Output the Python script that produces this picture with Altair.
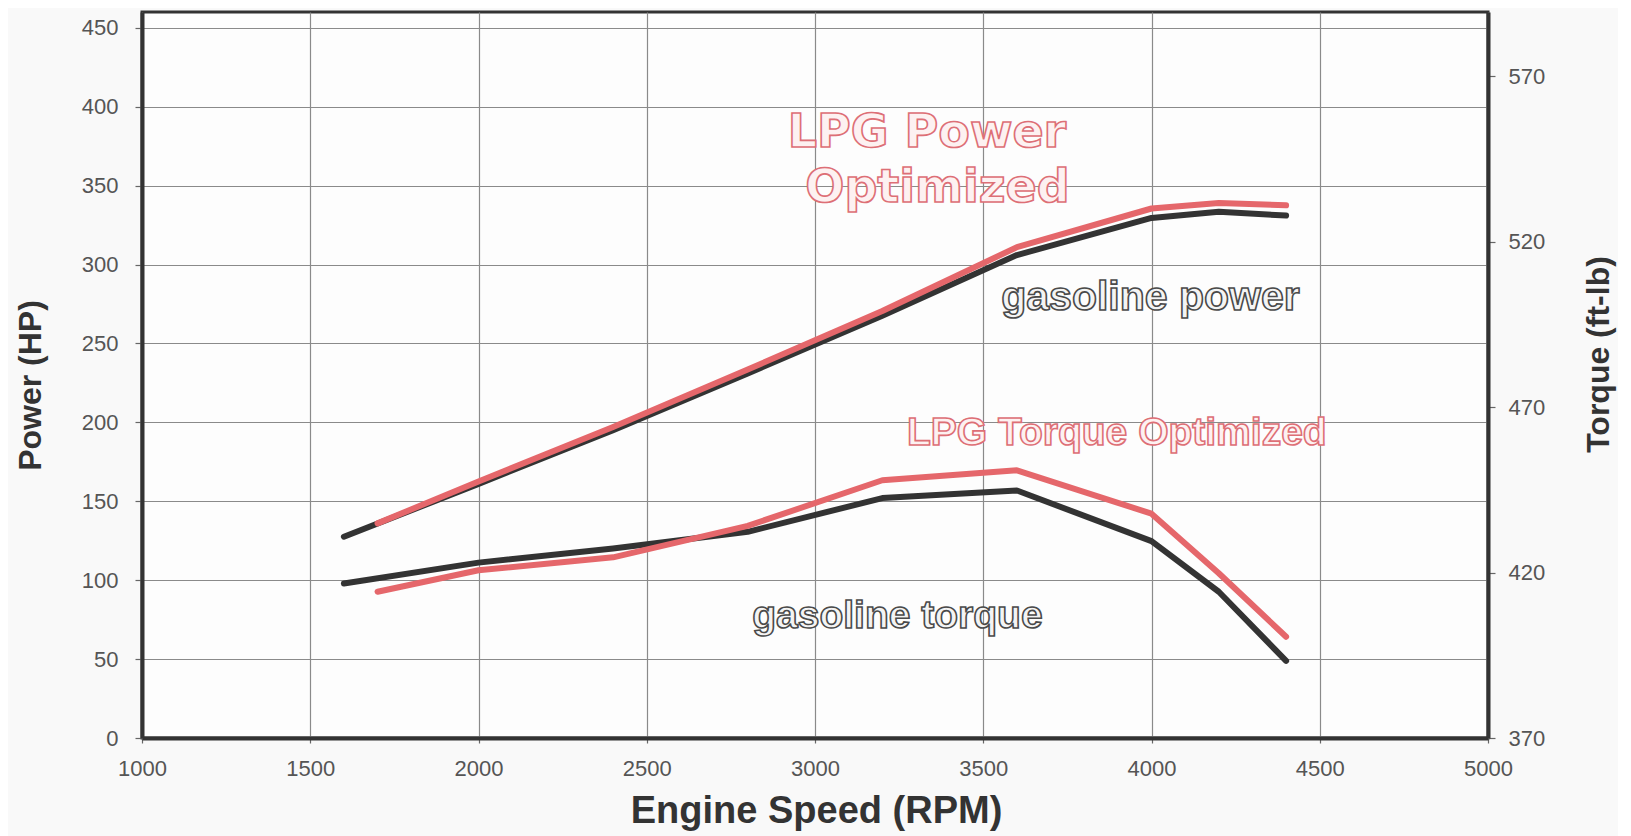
import altair as alt
import pandas as pd

# ---- data ----
rpm_gas_power = [1600, 2000, 2400, 2800, 3200, 3600, 4000, 4200, 4400]
gas_power_hp = [127.5, 161, 195, 231, 267.5, 306, 329.5, 333.5, 331]

rpm_lpg_power = [1700, 2000, 2400, 2800, 3200, 3600, 4000, 4200, 4400]
lpg_power_hp = [136, 162.5, 197, 233.5, 270.5, 311, 335.5, 339, 337.5]

rpm_gas_torque = [1600, 2000, 2400, 2800, 3200, 3600, 4000, 4200, 4400]
gas_torque_ftlb = [416.7, 423, 427.3, 432.3, 442.5, 444.8, 429.5, 414.2, 393.3]

rpm_lpg_torque = [1700, 2000, 2400, 2800, 3200, 3600, 4000, 4200, 4400]
lpg_torque_ftlb = [414.2, 420.7, 424.6, 434.1, 447.9, 450.9, 437.8, 419.8, 400.6]

rpm_ticks = [1000, 1500, 2000, 2500, 3000, 3500, 4000, 4500, 5000]
power_ticks = [0, 50, 100, 150, 200, 250, 300, 350, 400, 450]
torque_ticks = [370, 420, 470, 520, 570]

label_text = ["LPG Power", "Optimized", "gasoline power", "LPG Torque Optimized", "gasoline torque"]
label_rpm = [3333, 3364, 3997, 3897, 3245]
label_hp = [374.6, 339.8, 271.2, 185.7, 70]
label_group = ["lpg_wide", "lpg_wide", "gas_wide", "lpg_narrow", "gas_narrow"]

series_order = ["gasoline power", "LPG power", "gasoline torque", "LPG torque"]
series_colors = ["#333333", "#e5676b", "#333333", "#e5676b"]

# ---- tables ----
power_df = pd.concat([
    pd.DataFrame({"rpm": rpm_gas_power, "value": gas_power_hp, "series": "gasoline power"}),
    pd.DataFrame({"rpm": rpm_lpg_power, "value": lpg_power_hp, "series": "LPG power"}),
])
torque_df = pd.concat([
    pd.DataFrame({"rpm": rpm_gas_torque, "value": gas_torque_ftlb, "series": "gasoline torque"}),
    pd.DataFrame({"rpm": rpm_lpg_torque, "value": lpg_torque_ftlb, "series": "LPG torque"}),
])
ann_df = pd.DataFrame({"rpm": label_rpm, "value": label_hp, "text": label_text, "group": label_group})

x_enc = alt.X(
    "rpm:Q",
    scale=alt.Scale(domain=[1000, 5000], nice=False, zero=False),
    axis=alt.Axis(
        values=rpm_ticks, title="Engine Speed (RPM)", format="d",
        grid=True, tickSize=5, labelPadding=15, labelFlush=False,
        titleX=674, titleY=73, titleAlign="center", titleBaseline="middle",
    ),
)
y_power = alt.Y(
    "value:Q",
    scale=alt.Scale(domain=[0, 460], nice=False, zero=False),
    axis=alt.Axis(
        values=power_ticks, title="Power (HP)", grid=True, orient="left",
        tickSize=7, labelPadding=17, labelFlush=False,
        titleX=-112, titleY=373, titleAngle=270, titleAlign="center", titleBaseline="middle",
    ),
)
y_torque = alt.Y(
    "value:Q",
    scale=alt.Scale(domain=[370, 589.4], nice=False, zero=False),
    axis=alt.Axis(
        values=torque_ticks, title="Torque (ft-lb)", grid=False, orient="right",
        tickSize=7, labelPadding=13, labelFlush=False,
        titleX=110, titleY=342, titleAngle=270, titleAlign="center", titleBaseline="middle",
    ),
)
color_enc = alt.Color("series:N", scale=alt.Scale(domain=series_order, range=series_colors), legend=None)

power_lines = alt.Chart(power_df).mark_line(strokeWidth=6, strokeCap="round", strokeJoin="round").encode(
    x=x_enc, y=y_power, color=color_enc, detail="series:N"
)
torque_lines = alt.Chart(torque_df).mark_line(strokeWidth=6, strokeCap="round", strokeJoin="round").encode(
    x=x_enc, y=y_torque, color=color_enc, detail="series:N"
)

def ann(group, font, size, fill, stroke):
    return alt.Chart(ann_df).transform_filter(alt.datum.group == group).mark_text(
        font=font, fontSize=size, fontWeight="bold", fill=fill, stroke=stroke,
        strokeWidth=1.6, align="center", baseline="alphabetic",
    ).encode(x=x_enc, y=y_power, text="text:N")

ann_layers = [
    ann("lpg_wide", "DejaVu Sans", 46, "#fdf1f1", "#dd6f76"),
    ann("gas_wide", "Liberation Sans", 41, "#f4f4f4", "#4a4a4a"),
    ann("lpg_narrow", "Liberation Sans", 39, "#fdf1f1", "#dd6f76"),
    ann("gas_narrow", "Liberation Sans", 39, "#f4f4f4", "#4a4a4a"),
]

power_layer = alt.layer(power_lines, *ann_layers)

chart = alt.layer(power_layer, torque_lines).resolve_scale(y="independent").properties(
    width=1346, height=726,
    autosize=alt.AutoSizeParams(type="none"),
    padding={"left": 134, "top": 4, "right": 130, "bottom": 98},
    background="#f9f9f9",
).configure_view(
    stroke="#333333", strokeWidth=3, fill="#fdfdfd"
).configure_axis(
    labelFont="Liberation Sans", labelFontSize=22, labelColor="#555555",
    titleFont="Liberation Sans", titleFontSize=32, titleFontWeight="bold", titleColor="#333333",
    gridColor="#8a8a8a", gridWidth=1.2, gridOpacity=1,
    domainColor="#333333", domainWidth=4, tickColor="#666666", tickWidth=1.2,
).configure_axisX(
    titleFontSize=38
)

chart.save("out.html", embed_options={"renderer": "svg", "actions": False})
